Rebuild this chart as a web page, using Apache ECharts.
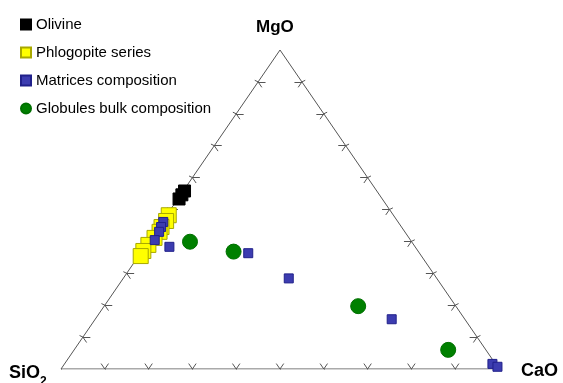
<!DOCTYPE html>
<html>
<head>
<meta charset="utf-8">
<script src="https://cdn.jsdelivr.net/npm/echarts@6/dist/echarts.min.js"></script>
<style>
html,body{margin:0;padding:0;background:#fff;}
#c{width:563px;height:383px;}
</style>
</head>
<body>
<div id="c"></div>
<script>
// Ternary compositions (%): MgO and CaO given, SiO2 = 100 - MgO - CaO
const olivineMgO = [53.3, 54.6, 55.8];
const olivineCaO = [0.3, 0.3, 0.3];

const phlogMgO = [48.2, 46.4, 44.5, 43.0, 41.1, 38.9, 37.0, 35.4];
const phlogCaO = [0.5, 0.8, 0.7, 1.0, 0.8, 0.5, 0.3, 0.5];

const matrixMgO = [46.1, 44.5, 43.0, 40.4, 38.3, 36.3, 28.4, 15.6, 1.6, 0.7];
const matrixCaO = [0.3, 0.6, 0.9, 1.2, 5.6, 24.6, 37.8, 67.7, 97.7, 99.3];

const globMgO = [39.9, 36.8, 19.7, 6.0];
const globCaO = [9.5, 21.0, 58.0, 85.4];

const tickFractions = [0.1, 0.2, 0.3, 0.4, 0.5, 0.6, 0.7, 0.8, 0.9];
const seriesNames = ['Olivine', 'Phlogopite series', 'Matrices composition', 'Globules bulk composition'];

// ternary -> cartesian (x along base toward CaO, y toward MgO apex)
function toXY(mgo, cao) {
  const m = mgo / 100, c = cao / 100;
  return [c + m / 2, m];
}
function pts(mArr, cArr) { return mArr.map((m, i) => toXY(m, cArr[i])); }

// tick segments
const d = 0.017;
const tickLines = [];
function addTick(p, a1, a2) {
  tickLines.push({coords: [p, [p[0] + a1[0], p[1] + a1[1]]]});
  tickLines.push({coords: [p, [p[0] + a2[0], p[1] + a2[1]]]});
  const ox = -(a1[0] + a2[0]) / 2 * 0.6, oy = -(a1[1] + a2[1]) / 2 * 0.6;
  tickLines.push({coords: [p, [p[0] + ox, p[1] + oy]]});
}
tickFractions.forEach(t => {
  addTick([t, 0], [d / 2, d], [-d / 2, d]);
  addTick([t / 2, t], [d, 0], [d / 2, -d]);
  addTick([1 - t / 2, t], [-d, 0], [-d / 2, -d]);
});
tickLines.push({coords: [[0, 0], [0, -0.6 * d]]});

const chart = echarts.init(document.getElementById('c'), null, {renderer: 'canvas'});
const FONT = '"Liberation Sans", Arial, sans-serif';
chart.setOption({
  animation: false,
  backgroundColor: '#ffffff',
  grid: {left: 61, right: 64, top: 50, bottom: 14},
  xAxis: {type: 'value', min: 0, max: 1, show: false},
  yAxis: {type: 'value', min: 0, max: 1, show: false},
  legend: {
    orient: 'vertical', left: 15, top: 12, itemGap: 13,
    itemWidth: 10, itemHeight: 10,
    textStyle: {fontFamily: FONT, fontSize: 15, color: '#000'},
    data: [
      {name: seriesNames[0], icon: 'rect'},
      {name: seriesNames[1], icon: 'rect'},
      {name: seriesNames[2], icon: 'rect'},
      {name: seriesNames[3], icon: 'circle'}
    ]
  },
  graphic: [
    {type: 'text', left: 256, top: 19, style: {text: 'MgO', font: 'bold 17px ' + FONT, fill: '#000'}},
    {type: 'text', left: 521, top: 362, style: {text: 'CaO', font: 'bold 18px ' + FONT, fill: '#000'}},
    {type: 'text', left: 9, top: 364, style: {
      text: '{a|SiO}{b|2}',
      rich: {
        a: {font: 'bold 18px ' + FONT, fill: '#000', verticalAlign: 'bottom'},
        b: {font: 'bold 12px ' + FONT, fill: '#000', padding: [0, 0, -6, 0], verticalAlign: 'bottom'}
      }
    }}
  ],
  series: [
    {
      type: 'line', silent: true, symbol: 'none',
      data: [[0, 0], [1, 0], [0.5, 1], [0, 0]],
      lineStyle: {color: '#555', width: 1}, z: 1
    },
    {
      type: 'lines', coordinateSystem: 'cartesian2d', silent: true,
      data: tickLines, lineStyle: {color: '#555', width: 1, opacity: 1}, z: 1
    },
    {
      name: seriesNames[0], type: 'scatter', symbol: 'rect', symbolSize: 12, clip: false,
      data: pts(olivineMgO, olivineCaO),
      itemStyle: {color: '#000', borderColor: '#000', borderWidth: 1, opacity: 1}, z: 3
    },
    {
      name: seriesNames[1], type: 'scatter', symbol: 'rect', symbolSize: 15, clip: false,
      data: pts(phlogMgO, phlogCaO),
      itemStyle: {color: '#ffff00', borderColor: '#a8a800', borderWidth: 1, opacity: 1}, z: 3
    },
    {
      name: seriesNames[2], type: 'scatter', symbol: 'rect', symbolSize: 9, clip: false,
      data: pts(matrixMgO, matrixCaO),
      itemStyle: {color: '#3c3cb0', borderColor: '#20208a', borderWidth: 1, opacity: 1}, z: 4
    },
    {
      name: seriesNames[3], type: 'scatter', symbol: 'circle', symbolSize: 15, clip: false,
      data: pts(globMgO, globCaO),
      itemStyle: {color: '#008000', borderColor: '#007000', borderWidth: 1, opacity: 1}, z: 4
    }
  ]
});
</script>
</body>
</html>
